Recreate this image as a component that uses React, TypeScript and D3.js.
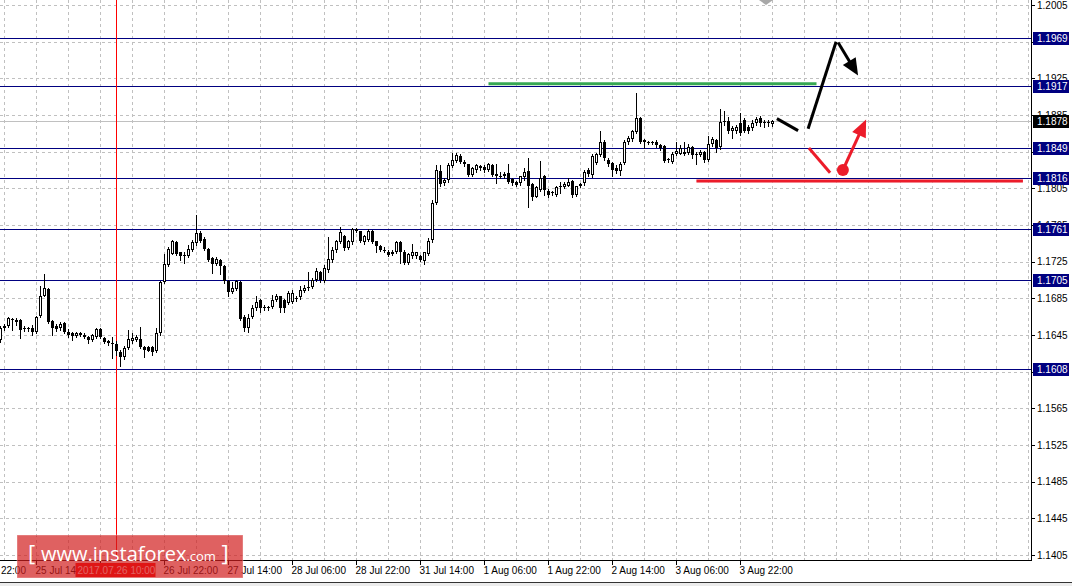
import { useEffect, useRef } from "react";
import * as d3 from "d3";

// EURUSD H1, bar 0 = 25 Jul 05:00
const opens = [
  1.1640, 1.1653, 1.1655, 1.1663, 1.1659, 1.1661, 1.1653, 1.1652, 1.1653, 1.1648,
  1.1666, 1.1688, 1.1695, 1.1660, 1.1655, 1.1653, 1.1658, 1.1648, 1.1647, 1.1644,
  1.1647, 1.1645, 1.1643, 1.1640, 1.1643, 1.1651, 1.1642, 1.1638, 1.1636, 1.1635,
  1.1626, 1.1621, 1.1631, 1.1638, 1.1640, 1.1641, 1.1632, 1.1632, 1.1632, 1.1627,
  1.1647, 1.1703, 1.1721, 1.1733, 1.1746, 1.1735, 1.1731, 1.1731, 1.1738, 1.1745,
  1.1756, 1.1750, 1.1739, 1.1729, 1.1722, 1.1727, 1.1720, 1.1704, 1.1692, 1.1695,
  1.1703, 1.1665, 1.1653, 1.1665, 1.1674, 1.1683, 1.1676, 1.1675, 1.1676, 1.1683,
  1.1687, 1.1683, 1.1680, 1.1681, 1.1685, 1.1686, 1.1693, 1.1696, 1.1697, 1.1705,
  1.1714, 1.1704, 1.1716, 1.1727, 1.1738, 1.1746, 1.1753, 1.1740, 1.1746, 1.1761,
  1.1758, 1.1746, 1.1749, 1.1759, 1.1747, 1.1742, 1.1738, 1.1736, 1.1733, 1.1735,
  1.1746, 1.1736, 1.1724, 1.1731, 1.1731, 1.1731, 1.1726, 1.1733, 1.1749, 1.1789,
  1.1824, 1.1811, 1.1814, 1.1829, 1.1835, 1.1840, 1.1834, 1.1831, 1.1820, 1.1825,
  1.1829, 1.1828, 1.1825, 1.1830, 1.1821, 1.1819, 1.1821, 1.1822, 1.1815, 1.1812,
  1.1811, 1.1817, 1.1824, 1.1810, 1.1796, 1.1803, 1.1818, 1.1802, 1.1800, 1.1798,
  1.1806, 1.1806, 1.1808, 1.1813, 1.1798, 1.1807, 1.1811, 1.1825, 1.1820, 1.1833,
  1.1841, 1.1855, 1.1836, 1.1833, 1.1827, 1.1824, 1.1833, 1.1855, 1.1859, 1.1866,
  1.1882, 1.1858, 1.1855, 1.1856, 1.1856, 1.1852, 1.1851, 1.1836, 1.1834, 1.1843,
  1.1843, 1.1843, 1.1844, 1.1850, 1.1842, 1.1841, 1.1845, 1.1836, 1.1853, 1.1858,
  1.1850, 1.1877, 1.1878, 1.1867, 1.1867, 1.1876, 1.1880, 1.1872, 1.1871, 1.1876,
  1.1882, 1.1876, 1.1877, 1.1875,
];
const highs = [
  1.1655, 1.1657, 1.1665, 1.1664, 1.1664, 1.1662, 1.1655, 1.1654, 1.1656, 1.1666,
  1.1699, 1.1711, 1.1696, 1.1661, 1.1657, 1.1659, 1.1659, 1.1652, 1.1648, 1.1648,
  1.1648, 1.1647, 1.1644, 1.1646, 1.1653, 1.1653, 1.1643, 1.1640, 1.1643, 1.1639,
  1.1629, 1.1633, 1.1650, 1.1647, 1.1645, 1.1654, 1.1633, 1.1633, 1.1633, 1.1653,
  1.1704, 1.1733, 1.1741, 1.1749, 1.1748, 1.1736, 1.1735, 1.1743, 1.1749, 1.1776,
  1.1758, 1.1752, 1.1740, 1.1730, 1.1730, 1.1728, 1.1721, 1.1705, 1.1703, 1.1705,
  1.1704, 1.1667, 1.1668, 1.1678, 1.1687, 1.1684, 1.1678, 1.1677, 1.1689, 1.1690,
  1.1688, 1.1684, 1.1693, 1.1694, 1.1687, 1.1698, 1.1700, 1.1714, 1.1707, 1.1718,
  1.1715, 1.1721, 1.1752, 1.1741, 1.1749, 1.1763, 1.1754, 1.1749, 1.1762, 1.1762,
  1.1759, 1.1754, 1.1761, 1.1760, 1.1748, 1.1743, 1.1741, 1.1738, 1.1738, 1.1747,
  1.1747, 1.1738, 1.1734, 1.1744, 1.1736, 1.1732, 1.1736, 1.1751, 1.1792, 1.1830,
  1.1830, 1.1816, 1.1833, 1.1844, 1.1844, 1.1842, 1.1836, 1.1832, 1.1828, 1.1832,
  1.1830, 1.1830, 1.1833, 1.1831, 1.1831, 1.1823, 1.1823, 1.1832, 1.1816, 1.1813,
  1.1819, 1.1827, 1.1838, 1.1811, 1.1808, 1.1835, 1.1820, 1.1804, 1.1802, 1.1808,
  1.1812, 1.1812, 1.1816, 1.1814, 1.1808, 1.1811, 1.1825, 1.1827, 1.1842, 1.1844,
  1.1867, 1.1858, 1.1838, 1.1834, 1.1830, 1.1834, 1.1858, 1.1862, 1.1869, 1.1909,
  1.1883, 1.1859, 1.1857, 1.1857, 1.1858, 1.1853, 1.1852, 1.1838, 1.1845, 1.1855,
  1.1852, 1.1855, 1.1853, 1.1851, 1.1845, 1.1847, 1.1846, 1.1862, 1.1861, 1.1859,
  1.1892, 1.1889, 1.1883, 1.1873, 1.1874, 1.1887, 1.1882, 1.1874, 1.1879, 1.1883,
  1.1884, 1.1879, 1.1879, 1.1880,
];
const lows = [
  1.1637, 1.1650, 1.1654, 1.1650, 1.1656, 1.1642, 1.1649, 1.1649, 1.1645, 1.1647,
  1.1665, 1.1687, 1.1658, 1.1645, 1.1649, 1.1650, 1.1647, 1.1643, 1.1640, 1.1643,
  1.1644, 1.1642, 1.1636, 1.1639, 1.1642, 1.1642, 1.1636, 1.1634, 1.1620, 1.1623,
  1.1611, 1.1619, 1.1630, 1.1636, 1.1639, 1.1631, 1.1621, 1.1627, 1.1623, 1.1626,
  1.1645, 1.1702, 1.1720, 1.1733, 1.1732, 1.1727, 1.1724, 1.1730, 1.1737, 1.1743,
  1.1746, 1.1738, 1.1726, 1.1713, 1.1721, 1.1711, 1.1702, 1.1687, 1.1691, 1.1694,
  1.1661, 1.1649, 1.1648, 1.1664, 1.1672, 1.1670, 1.1672, 1.1672, 1.1675, 1.1682,
  1.1670, 1.1670, 1.1679, 1.1680, 1.1682, 1.1684, 1.1692, 1.1694, 1.1696, 1.1704,
  1.1703, 1.1703, 1.1714, 1.1725, 1.1736, 1.1745, 1.1738, 1.1739, 1.1744, 1.1757,
  1.1746, 1.1744, 1.1748, 1.1745, 1.1735, 1.1737, 1.1735, 1.1731, 1.1732, 1.1734,
  1.1724, 1.1723, 1.1722, 1.1729, 1.1729, 1.1726, 1.1723, 1.1732, 1.1746, 1.1788,
  1.1808, 1.1809, 1.1812, 1.1828, 1.1834, 1.1833, 1.1829, 1.1819, 1.1818, 1.1823,
  1.1825, 1.1823, 1.1824, 1.1819, 1.1811, 1.1816, 1.1816, 1.1811, 1.1809, 1.1807,
  1.1809, 1.1814, 1.1785, 1.1792, 1.1795, 1.1802, 1.1798, 1.1796, 1.1798, 1.1797,
  1.1800, 1.1805, 1.1807, 1.1795, 1.1797, 1.1806, 1.1809, 1.1819, 1.1817, 1.1831,
  1.1840, 1.1836, 1.1829, 1.1818, 1.1822, 1.1820, 1.1831, 1.1853, 1.1857, 1.1865,
  1.1854, 1.1849, 1.1853, 1.1853, 1.1850, 1.1847, 1.1834, 1.1834, 1.1833, 1.1841,
  1.1842, 1.1841, 1.1842, 1.1838, 1.1831, 1.1840, 1.1834, 1.1835, 1.1851, 1.1845,
  1.1848, 1.1874, 1.1865, 1.1860, 1.1865, 1.1863, 1.1866, 1.1865, 1.1869, 1.1874,
  1.1873, 1.1872, 1.1873, 1.1873,
];
const closes = [
  1.1653, 1.1655, 1.1664, 1.1661, 1.1661, 1.1650, 1.1652, 1.1653, 1.1648, 1.1665,
  1.1687, 1.1696, 1.1659, 1.1653, 1.1652, 1.1657, 1.1648, 1.1645, 1.1644, 1.1647,
  1.1645, 1.1643, 1.1640, 1.1645, 1.1651, 1.1643, 1.1637, 1.1636, 1.1635, 1.1627,
  1.1621, 1.1631, 1.1641, 1.1642, 1.1643, 1.1632, 1.1629, 1.1628, 1.1626, 1.1647,
  1.1703, 1.1722, 1.1739, 1.1747, 1.1733, 1.1731, 1.1732, 1.1739, 1.1746, 1.1756,
  1.1747, 1.1739, 1.1727, 1.1722, 1.1728, 1.1720, 1.1704, 1.1692, 1.1696, 1.1704,
  1.1663, 1.1653, 1.1664, 1.1675, 1.1681, 1.1675, 1.1675, 1.1676, 1.1683, 1.1688,
  1.1675, 1.1675, 1.1691, 1.1691, 1.1684, 1.1694, 1.1696, 1.1697, 1.1705, 1.1715,
  1.1705, 1.1718, 1.1728, 1.1738, 1.1747, 1.1757, 1.1740, 1.1747, 1.1761, 1.1758,
  1.1748, 1.1753, 1.1759, 1.1746, 1.1742, 1.1738, 1.1737, 1.1732, 1.1736, 1.1746,
  1.1736, 1.1724, 1.1733, 1.1735, 1.1735, 1.1727, 1.1735, 1.1748, 1.1789, 1.1825,
  1.1810, 1.1814, 1.1830, 1.1836, 1.1841, 1.1834, 1.1831, 1.1820, 1.1827, 1.1830,
  1.1827, 1.1825, 1.1831, 1.1820, 1.1818, 1.1818, 1.1818, 1.1812, 1.1811, 1.1809,
  1.1818, 1.1823, 1.1808, 1.1796, 1.1806, 1.1816, 1.1803, 1.1798, 1.1801, 1.1806,
  1.1807, 1.1810, 1.1812, 1.1798, 1.1807, 1.1810, 1.1823, 1.1821, 1.1840, 1.1842,
  1.1855, 1.1838, 1.1831, 1.1825, 1.1824, 1.1832, 1.1856, 1.1860, 1.1867, 1.1882,
  1.1856, 1.1855, 1.1856, 1.1855, 1.1852, 1.1849, 1.1835, 1.1837, 1.1843, 1.1846,
  1.1849, 1.1845, 1.1850, 1.1841, 1.1843, 1.1845, 1.1836, 1.1853, 1.1859, 1.1849,
  1.1877, 1.1878, 1.1867, 1.1871, 1.1872, 1.1865, 1.1868, 1.1867, 1.1876, 1.1881,
  1.1876, 1.1877, 1.1876, 1.1878,
];

// time axis (bar index of each label)
const timeTickIdx = [-7, 9, 25, 41, 57, 73, 89, 105, 121, 137, 153, 169, 185];
const timeTickLabels = [
  "24 Jul 22:00", "25 Jul 14:00", "26 Jul 06:00", "26 Jul 22:00", "27 Jul 14:00",
  "28 Jul 06:00", "28 Jul 22:00", "31 Jul 14:00", "1 Aug 06:00", "1 Aug 22:00",
  "2 Aug 14:00", "3 Aug 06:00", "3 Aug 22:00",
];
const priceTicks = [
  1.1405, 1.1445, 1.1485, 1.1525, 1.1565, 1.1605, 1.1645, 1.1685,
  1.1725, 1.1765, 1.1805, 1.1845, 1.1885, 1.1925, 1.1965, 2005 / 1000 - 0.0,
].map((v) => (v > 2 ? 1.2005 : v));
const levelPrices = [1.1969, 1.1917, 1.1849, 1.1816, 1.1761, 1.1705, 1.1608];
const bidPrice = 1.1878;
const crossIdx = 29;
const crossLabel = "2017.07.26 10:00";

// drawn forecast (bar index, price)
const greenLine = [[122, 1.1919], [204, 1.1919]];
const redLine = [[174, 1.1813], [255.6, 1.1813]];
const blackStroke1 = [[194.1, 1.1881], [199.4, 1.1868]];
const blackStroke2 = [[201.9, 1.1870], [208.9, 1.1965]];
const blackArrow = [[209.4, 1.1964], [214.4, 1.1928]];
const redStroke = [[202.1, 1.1849], [207.4, 1.1822]];
const redDot = [210.6, 1.1825];
const redArrow = [[210.6, 1.1825], [216.4, 1.1880]];

const W = 1072;
const H = 586;
const plotW = 1031;
const plotH = 560;
const FONT = "'Liberation Sans', Arial, sans-serif";

export default function App() {
  const svgRef = useRef<SVGSVGElement>(null);

  useEffect(() => {
    if (!svgRef.current) return;
    const svg = d3.select(svgRef.current);
    svg.selectAll("*").remove();

    const x = d3.scaleLinear().domain([0, 257]).range([0, 1028]);
    const y = d3.scaleLinear().domain([1.1405, 1.2005]).range([555, 5]);
    const px = (i: number) => Math.round(x(i)) + 0.5;
    const py = (p: number) => Math.round(y(p)) + 0.5;

    svg.append("rect").attr("width", W).attr("height", H).attr("fill", "#fff");

    svg.append("defs").append("clipPath").attr("id", "plot")
      .append("rect").attr("width", plotW).attr("height", plotH);

    const g = svg.append("g").attr("clip-path", "url(#plot)");

    // grid
    d3.range(-7, 258, 8).forEach((i) => {
      g.append("line")
        .attr("x1", px(i)).attr("x2", px(i)).attr("y1", 0).attr("y2", plotH)
        .attr("stroke", "#c0c0c0").attr("stroke-dasharray", "3,3");
    });
    priceTicks.forEach((p) => {
      g.append("line")
        .attr("x1", 0).attr("x2", plotW).attr("y1", py(p)).attr("y2", py(p))
        .attr("stroke", "#c0c0c0").attr("stroke-dasharray", "3,3");
    });

    // bid line
    g.append("line")
      .attr("x1", 0).attr("x2", plotW).attr("y1", py(bidPrice)).attr("y2", py(bidPrice))
      .attr("stroke", "#c0c0c0");

    // levels
    levelPrices.forEach((p) => {
      g.append("line")
        .attr("x1", 0).attr("x2", plotW).attr("y1", py(p)).attr("y2", py(p))
        .attr("stroke", "#000080");
    });

    // crosshair
    g.append("line")
      .attr("x1", px(crossIdx)).attr("x2", px(crossIdx)).attr("y1", 0).attr("y2", plotH)
      .attr("stroke", "#ff0000");

    // candles
    const candles = g.append("g");
    opens.forEach((o, i) => {
      const c = closes[i];
      const cx = px(i);
      candles.append("line")
        .attr("x1", cx).attr("x2", cx)
        .attr("y1", Math.round(y(highs[i]))).attr("y2", Math.round(y(lows[i])) + 1)
        .attr("stroke", "#000");
      const top = Math.round(y(Math.max(o, c)));
      const bot = Math.round(y(Math.min(o, c)));
      if (bot - top <= 1) {
        candles.append("line")
          .attr("x1", cx - 1.5).attr("x2", cx + 1.5)
          .attr("y1", top + 0.5).attr("y2", top + 0.5)
          .attr("stroke", "#000");
      } else if (c > o) {
        candles.append("rect")
          .attr("x", cx - 1).attr("y", top + 0.5)
          .attr("width", 2).attr("height", bot - top - 1)
          .attr("fill", "#fff").attr("stroke", "#000");
      } else {
        candles.append("rect")
          .attr("x", cx - 1.5).attr("y", top)
          .attr("width", 3).attr("height", bot - top)
          .attr("fill", "#000");
      }
    });

    // forecast drawings
    const line = d3.line<number[]>().x((d) => x(d[0]) + 0.5).y((d) => y(d[1]));
    const seg = (pts: number[][], color: string, w: number) =>
      g.append("path").attr("d", line(pts)).attr("fill", "none")
        .attr("stroke", color).attr("stroke-width", w);

    seg(greenLine, "#36a852", 3);
    seg(redLine, "#f2707a", 4).attr("opacity", 0.6);
    seg(redLine, "#ec1c2a", 2.5);

    const arrow = (pts: number[][], color: string) => {
      const x1 = x(pts[0][0]) + 0.5, y1 = y(pts[0][1]);
      const x2 = x(pts[1][0]) + 0.5, y2 = y(pts[1][1]);
      const len = Math.hypot(x2 - x1, y2 - y1);
      const ux = (x2 - x1) / len, uy = (y2 - y1) / len;
      const hl = 17, hw = 7.5;
      const bx = x2 - ux * hl, by = y2 - uy * hl;
      g.append("line").attr("x1", x1).attr("y1", y1).attr("x2", bx + ux * 2).attr("y2", by + uy * 2)
        .attr("stroke", color).attr("stroke-width", 3);
      g.append("path")
        .attr("d", `M${x2},${y2}L${bx - uy * hw},${by + ux * hw}L${bx + uy * hw},${by - ux * hw}Z`)
        .attr("fill", color);
    };

    seg(blackStroke1, "#000", 3);
    seg(blackStroke2, "#000", 3);
    arrow(blackArrow, "#000");
    seg(redStroke, "#ec1c2a", 3);
    arrow(redArrow, "#ec1c2a");
    g.append("circle")
      .attr("cx", x(redDot[0]) + 0.5).attr("cy", y(redDot[1])).attr("r", 6)
      .attr("fill", "#ec1c2a");

    // chart shift marker
    const sx = x(191.5);
    svg.append("path").attr("d", `M${sx - 7},0L${sx + 7},0L${sx},5Z`).attr("fill", "#a8a8a8");

    // axes
    svg.append("line").attr("x1", plotW + 0.5).attr("x2", plotW + 0.5)
      .attr("y1", 0).attr("y2", plotH + 1).attr("stroke", "#000");
    svg.append("line").attr("x1", 0).attr("x2", plotW + 1)
      .attr("y1", plotH + 0.5).attr("y2", plotH + 0.5).attr("stroke", "#000");

    priceTicks.forEach((p) => {
      svg.append("line")
        .attr("x1", plotW).attr("x2", plotW + 4).attr("y1", py(p)).attr("y2", py(p))
        .attr("stroke", "#000");
      svg.append("text")
        .attr("x", plotW + 6).attr("y", y(p) + 3.5)
        .style("font-family", FONT).style("font-size", "10px").attr("fill", "#000")
        .text(p.toFixed(4));
    });

    const levelLabels = levelPrices.map((p) => ({ p, bg: "#000080" }))
      .concat([{ p: bidPrice, bg: "#000" }]);
    levelLabels.forEach(({ p, bg }) => {
      const cy = Math.round(y(p));
      svg.append("rect")
        .attr("x", plotW + 2).attr("y", cy - 6).attr("width", 36).attr("height", 13)
        .attr("fill", bg);
      svg.append("text")
        .attr("x", plotW + 6).attr("y", cy + 4)
        .style("font-family", FONT).style("font-size", "10px").attr("fill", "#fff")
        .text(p.toFixed(4));
    });

    timeTickIdx.forEach((i, k) => {
      svg.append("line")
        .attr("x1", px(i)).attr("x2", px(i)).attr("y1", plotH).attr("y2", plotH + 5)
        .attr("stroke", "#000");
      svg.append("text")
        .attr("x", px(i) - 1).attr("y", plotH + 14)
        .style("font-family", FONT).style("font-size", "10px").attr("fill", "#000")
        .text(timeTickLabels[k]);
    });

    // crosshair time label
    svg.append("rect")
      .attr("x", px(crossIdx) - 41).attr("y", plotH + 3).attr("width", 80).attr("height", 14)
      .attr("fill", "#ff0000");
    svg.append("text")
      .attr("x", px(crossIdx)).attr("y", plotH + 14).attr("text-anchor", "middle")
      .style("font-family", FONT).style("font-size", "10px").attr("fill", "#fff")
      .text(crossLabel);

    // window frame bottom
    svg.append("rect").attr("x", 0).attr("y", 582).attr("width", W).attr("height", 4).attr("fill", "#ececec");
    svg.append("line").attr("x1", 0).attr("x2", W).attr("y1", 582.5).attr("y2", 582.5).attr("stroke", "#333");

    // watermark
    const wm = svg.append("g");
    wm.append("rect")
      .attr("x", 17).attr("y", 535).attr("width", 226).attr("height", 43)
      .attr("fill", "rgba(210, 30, 30, 0.7)").attr("stroke", "rgba(255,255,255,0.35)");
    const wt = wm.append("text")
      .attr("x", 28).attr("y", 561)
      .style("font-family", "'Open Sans', sans-serif").attr("fill", "#fff");
    wt.append("tspan").style("font-size", "22px").text("[ ");
    wt.append("tspan").style("font-size", "20px").text("www.instaforex");
    wt.append("tspan").style("font-size", "13px").text(".com");
    wt.append("tspan").style("font-size", "22px").text(" ]");
  }, []);

  return (
    <svg
      ref={svgRef}
      width={W}
      height={H}
      style={{ position: "fixed", left: 0, top: 0, display: "block" }}
    />
  );
}
